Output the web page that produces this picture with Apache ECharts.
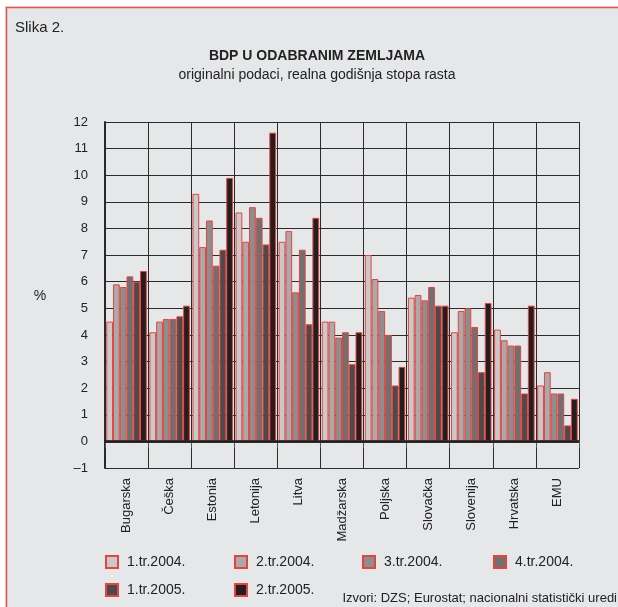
<!DOCTYPE html>
<html>
<head>
<meta charset="utf-8">
<script src="https://cdn.jsdelivr.net/npm/echarts@6/dist/echarts.min.js"></script>
<style>
  html, body { margin: 0; padding: 0; background: #fff; }
  #chart { width: 618px; height: 607px; }
</style>
</head>
<body>
<div id="chart"></div>
<script>
// zemlje
const countries = ['Bugarska', 'Češka', 'Estonia', 'Letonija', 'Litva', 'Madžarska',
  'Poljska', 'Slovačka', 'Slovenija', 'Hrvatska', 'EMU'];
// tromjesečja
const quarters = ['1.tr.2004.', '2.tr.2004.', '3.tr.2004.', '4.tr.2004.', '1.tr.2005.', '2.tr.2005.'];

// realna godišnja stopa rasta, po tromjesečju
const q1_2004 = [4.5, 4.1, 9.3, 8.6, 7.5, 4.5, 7.0, 5.4, 4.1, 4.2, 2.1];
const q2_2004 = [5.9, 4.5, 7.3, 7.5, 7.9, 4.5, 6.1, 5.5, 4.9, 3.8, 2.6];
const q3_2004 = [5.8, 4.6, 8.3, 8.8, 5.6, 3.9, 4.9, 5.3, 5.0, 3.6, 1.8];
const q4_2004 = [6.2, 4.6, 6.6, 8.4, 7.2, 4.1, 4.0, 5.8, 4.3, 3.6, 1.8];
const q1_2005 = [6.0, 4.7, 7.2, 7.4, 4.4, 2.9, 2.1, 5.1, 2.6, 1.8, 0.6];
const q2_2005 = [6.4, 5.1, 9.9, 11.6, 8.4, 4.1, 2.8, 5.1, 5.2, 5.1, 1.6];

const yTicks = [-1, 0, 1, 2, 3, 4, 5, 6, 7, 8, 9, 10, 11, 12];

const values = [q1_2004, q2_2004, q3_2004, q4_2004, q1_2005, q2_2005];
const fills = ['#c8c9cb', '#a9aaac', '#8d8e90', '#6f7072', '#4b4b4d', '#231f20'];
const red = '#e8433b';
const font = 'Liberation Sans, Arial, sans-serif';

const mychart = echarts.init(document.getElementById('chart'));

const series = quarters.map((q, i) => {
  const s = {
    name: q,
    type: 'bar',
    data: values[i],
    barGap: 0,
    barCategoryGap: '6%',
    itemStyle: { color: fills[i], borderColor: red, borderWidth: 1 },
    emphasis: { disabled: true },
    animation: false
  };
  if (i === 0) {
    // debela linija na nuli
    s.markLine = {
      silent: true,
      symbol: 'none',
      label: { show: false },
      lineStyle: { color: '#1e1e1e', width: 2.5, type: 'solid' },
      data: [{ yAxis: 0 }]
    };
  }
  return s;
});

// legenda - svaka stavka na svom mjestu
const legendPos = [
  [100, 550], [229, 550], [357, 550], [488, 550],
  [100, 578], [229, 578]
];
const legends = quarters.map((q, i) => ({
  data: [q],
  left: legendPos[i][0],
  top: legendPos[i][1],
  icon: 'rect',
  itemWidth: 12,
  itemHeight: 12,
  selectedMode: false,
  textStyle: { fontFamily: font, fontSize: 14, color: '#222', padding: [0, 0, 0, 4] }
}));

const option = {
  backgroundColor: '#e6e7e9',
  animation: false,
  legend: legends,
  grid: { left: 105, right: 39, top: 122, bottom: 139 },
  xAxis: {
    type: 'category',
    data: countries,
    axisLine: { lineStyle: { color: '#2a2a2a', width: 1.5 } },
    axisTick: { show: true, interval: 0, length: 7, lineStyle: { color: '#555' } },
    splitLine: { show: true, interval: 0, lineStyle: { color: '#2b2b2b', width: 1 } },
    axisLabel: {
      interval: 0,
      rotate: 90,
      margin: 10,
      fontFamily: font,
      fontSize: 13,
      color: '#222'
    }
  },
  yAxis: {
    type: 'value',
    min: yTicks[0],
    max: yTicks[yTicks.length - 1],
    interval: 1,
    axisLine: { show: true, lineStyle: { color: '#2a2a2a', width: 2 } },
    axisTick: { show: false },
    splitLine: { lineStyle: { color: '#2b2b2b', width: 1 } },
    axisLabel: {
      margin: 17,
      fontFamily: font,
      fontSize: 13,
      color: '#222',
      formatter: v => (v < 0 ? '\u2013' + Math.abs(v) : String(v))
    }
  },
  graphic: [
    {
      type: 'rect',
      left: 0, top: 0,
      shape: { width: 618, height: 6 },
      style: { fill: '#ffffff' },
      silent: true
    },
    {
      type: 'rect',
      left: 0, top: 0,
      shape: { width: 5, height: 607 },
      style: { fill: '#ffffff' },
      silent: true
    },
    {
      type: 'polyline',
      shape: { points: [[6.5, 620], [6.5, 7.5], [630, 7.5]] },
      style: { fill: 'none', stroke: '#e8544c', lineWidth: 1.5 },
      silent: true
    },
    {
      type: 'text', left: 15, top: 20,
      style: { text: 'Slika 2.', font: '15px ' + font, fill: '#222' }
    },
    {
      type: 'text', x: 317, y: 56,
      style: { text: 'BDP U ODABRANIM ZEMLJAMA', font: 'bold 14px ' + font, fill: '#222',
        align: 'center', verticalAlign: 'middle' }
    },
    {
      type: 'text', x: 317, y: 75,
      style: { text: 'originalni podaci, realna godišnja stopa rasta', font: '14px ' + font,
        fill: '#222', align: 'center', verticalAlign: 'middle' }
    },
    {
      type: 'text', x: 40, y: 296,
      style: { text: '%', font: '14px ' + font, fill: '#222', align: 'center', verticalAlign: 'middle' }
    },
    {
      type: 'text', x: 617, y: 598,
      style: { text: 'Izvori: DZS; Eurostat; nacionalni statistički uredi', font: '13px ' + font,
        fill: '#222', align: 'right', verticalAlign: 'middle' }
    }
  ],
  series: series
};

mychart.setOption(option, true);
</script>
</body>
</html>
